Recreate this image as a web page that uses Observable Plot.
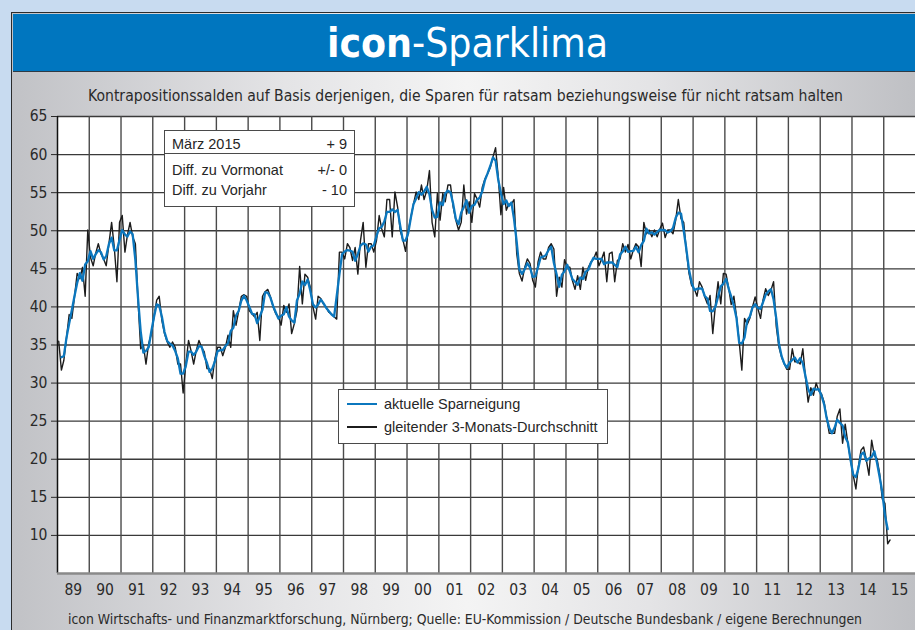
<!DOCTYPE html>
<html>
<head>
<meta charset="utf-8">
<script src="https://cdn.jsdelivr.net/npm/d3@7"></script>
<script src="https://cdn.jsdelivr.net/npm/@observablehq/plot@0.6"></script>
<style>
  html, body { margin: 0; padding: 0; }
  body { width: 915px; height: 630px; overflow: hidden; background: #c8dbf0; position: relative;
         font-family: "Liberation Sans", Arial, sans-serif; }
  #panel { position: absolute; left: 11px; top: 12px; width: 910px; height: 625px;
           border-left: 1.5px solid #2b2b2b; border-top: 1.5px solid #2b2b2b;
           background: linear-gradient(90deg, #c1c2c6 0%, #e4e4e6 30%, #f4f4f4 50%, #e4e4e6 70%, #bebfc3 100%); }
  #band { position: absolute; left: 12.5px; top: 13.5px; width: 905px; height: 57px;
          background: #0076bf; border-bottom: 1.5px solid #2f3a44; }
  #head, #cap { position: absolute; left: 0; }
  #head { top: 0; }
  #cap { top: 600px; }
  #chart { position: absolute; left: 0; top: 105px; }
  #info { position: absolute; left: 164px; top: 130px; width: 189px; height: 75px;
          background: #fff; border: 1px solid #4a4a4a; font-size: 14.5px; color: #262626; }
  #info .row { position: absolute; left: 7px; right: 7px; display: flex; justify-content: space-between; }
  #info .sep { position: absolute; left: 0; right: 0; top: 22px; border-top: 1px solid #4a4a4a; }
  #legend { position: absolute; left: 338px; top: 389px; width: 268px; height: 53px;
            background: #fff; border: 1px solid #4a4a4a; font-size: 14.5px; color: #262626; }
  #legend .item { position: absolute; left: 8px; display: flex; align-items: center; }
  #legend .sw { width: 30px; height: 2.5px; margin-right: 7px; }
</style>
</head>
<body>
<div id="panel"></div>
<div id="band"></div>
<svg id="head" width="915" height="105"></svg>
<div id="chart"></div>
<div id="info"></div>
<div id="legend"></div>
<svg id="cap" width="915" height="30"></svg>
<script>
// ---- data: monthly values (Jan 1989 – Mar 2015) ----
const y1989 = [35.5, 31.7, 33, 36, 39, 38.5, 41.3, 44.4, 43.7, 45.2, 41.4, 50.1];
const y1990 = [46.5, 45.4, 47, 48.3, 47, 46.3, 45.4, 48.3, 51.1, 47.9, 43.3, 51.1];
const y1991 = [52, 47.2, 49.4, 51.1, 49.2, 48.3, 40.9, 34.5, 35, 32.5, 35.2, 36.4];
const y1992 = [38.7, 40.9, 41.4, 38.2, 36.5, 35.4, 34.7, 35.4, 34.7, 32.5, 32.5, 28.7];
const y1993 = [32.5, 35.6, 34.3, 32.5, 34.3, 35.6, 34.7, 34.1, 31.9, 31.9, 30.6, 33.2];
const y1994 = [34.7, 34.7, 33.6, 34.7, 36.3, 34.7, 39.5, 37.6, 39.5, 41.4, 41.6, 41.4];
const y1995 = [39.5, 39.1, 38.7, 39.3, 35.6, 41.4, 42, 42.3, 41.3, 40, 39.1, 38.7];
const y1996 = [37.6, 40.2, 39.3, 40.4, 36.5, 37.8, 39.5, 45.3, 40.4, 44.3, 43.9, 42.6];
const y1997 = [40, 38.4, 41.4, 41.1, 40.4, 40, 39.3, 39.1, 38.7, 38.4, 47.2, 47.2];
const y1998 = [46.3, 48.3, 47.8, 46.1, 47.8, 44.3, 48.7, 51.1, 45.2, 48.3, 48.3, 47.2];
const y1999 = [48.7, 52, 50.3, 49.2, 54.1, 54.1, 49.2, 55.1, 53.1, 50, 48.8, 47.3];
const y2000 = [50, 51.8, 53.5, 55.1, 54.1, 56, 54.1, 55.3, 57.9, 51.1, 49.2, 54.9];
const y2001 = [51.4, 54.9, 53.8, 56, 56, 53.1, 51.4, 50.1, 51.1, 56, 52.2, 53.8];
const y2002 = [51.1, 54.9, 54.2, 53.1, 55.7, 56.8, 57.5, 58.3, 59.7, 60.9, 57, 52.1];
const y2003 = [55.7, 52.7, 53.5, 53.5, 54.1, 47, 44.4, 43.4, 45.2, 46.3, 45.7, 43.5];
const y2004 = [42.6, 45.9, 47.2, 46.3, 46.3, 47.8, 48.3, 47.6, 41.4, 43.9, 42.6, 46.2];
const y2005 = [45.2, 45.2, 43.5, 42.3, 44.1, 42.3, 45.2, 43.5, 45.2, 45.9, 46.3, 47.2];
const y2006 = [45.4, 46.3, 47.2, 43.3, 47, 47.2, 43.3, 46.1, 46.3, 48.3, 47.2, 48.2];
const y2007 = [46.3, 47.5, 48.3, 47.9, 45.3, 51.1, 49.6, 50.1, 49.2, 50.1, 49.2, 50.2];
const y2008 = [51, 49.1, 50.1, 50.1, 49.6, 51.4, 54.1, 51.6, 51.1, 47.4, 44.4, 42.8];
const y2009 = [42.4, 41.4, 43.3, 42.6, 41.3, 40.4, 41.5, 36.5, 40.3, 43.3, 40.4, 44.4];
const y2010 = [44.3, 42.4, 40.3, 41.4, 38.7, 35.4, 31.7, 38.5, 37.7, 38.5, 40, 41.3];
const y2011 = [39.8, 38.5, 40.9, 42.4, 41.5, 42.2, 43.3, 37.4, 34.7, 33.4, 32.5, 31.8];
const y2012 = [31.8, 34.5, 32.8, 32.8, 32.5, 34.5, 30.8, 27.5, 29.4, 28.4, 30, 29];
const y2013 = [28.6, 27.5, 25.5, 23.4, 23.4, 23.4, 25.6, 26.6, 22.1, 24.6, 22.1, 19.9];
const y2014 = [17.9, 16.1, 19, 21.2, 21.6, 19.9, 17.9, 22.5, 20.5, 20.1, 18.1, 14.8];
const y2015 = [14.2, 8.9, 9.4];

const firstYear = 1989;
const yearlyValues = [y1989, y1990, y1991, y1992, y1993, y1994, y1995, y1996, y1997, y1998,
  y1999, y2000, y2001, y2002, y2003, y2004, y2005, y2006, y2007, y2008, y2009, y2010,
  y2011, y2012, y2013, y2014, y2015];

const yearLabels = ["89","90","91","92","93","94","95","96","97","98","99","00","01","02",
  "03","04","05","06","07","08","09","10","11","12","13","14","15"];
const yTicks = [10, 15, 20, 25, 30, 35, 40, 45, 50, 55, 60, 65];

const titleBold = "icon";
const titleRest = "-Sparklima";
const subtitle = "Kontrapositionssalden auf Basis derjenigen, die Sparen für ratsam beziehungsweise für nicht ratsam halten";
const caption = "icon Wirtschafts- und Finanzmarktforschung, Nürnberg; Quelle: EU-Kommission / Deutsche Bundesbank / eigene Berechnungen";
const infoRows = [["März 2015", "+ 9"], ["Diff. zu Vormonat", "+/- 0"], ["Diff. zu Vorjahr", "- 10"]];
const legendLabels = ["aktuelle Sparneigung", "gleitender 3-Monats-Durchschnitt"];

const BLUE = "#0b77be";
const BLACK = "#1c1c1c";
const narrow = '"Liberation Sans Narrow", "DejaVu Sans Condensed", "Liberation Sans", sans-serif';

// ---- table ----
const data = yearlyValues.flatMap((vals, i) =>
  vals.map((v, m) => ({date: new Date(Date.UTC(firstYear + i, m, 15)), value: v})));
const yearStarts = yearLabels.map((_, i) => new Date(Date.UTC(firstYear + i, 0, 1))).slice(1);
const midYears = yearLabels.map((_, i) => new Date(Date.UTC(firstYear + i, 6, 2)));
const xStart = new Date(Date.UTC(firstYear, 0, 1));
const xEnd = new Date(Date.UTC(firstYear + yearLabels.length, 0, 1));

// ---- header ----
const head = d3.select("#head");
const title = head.append("text").attr("x", 327).attr("y", 57).attr("textLength", 281)
  .attr("lengthAdjust", "spacingAndGlyphs").attr("fill", "#fff")
  .attr("font-family", narrow).attr("font-size", 41);
title.append("tspan").attr("font-weight", "bold").text(titleBold);
title.append("tspan").text(titleRest);
head.append("text").attr("x", 88).attr("y", 101).attr("textLength", 755)
  .attr("lengthAdjust", "spacingAndGlyphs").attr("fill", "#2a2a2a")
  .attr("font-family", narrow).attr("font-size", 15.5).text(subtitle);

d3.select("#cap").append("text").attr("x", 68).attr("y", 24).attr("textLength", 794)
  .attr("lengthAdjust", "spacingAndGlyphs").attr("fill", "#2a2a2a")
  .attr("font-family", narrow).attr("font-size", 14.5).text(caption);

// ---- chart ----
const chart = Plot.plot({
  width: 915,
  height: 510,
  marginLeft: 57,
  marginRight: 0,
  marginTop: 11,
  marginBottom: 42,
  style: {background: "transparent", fontFamily: narrow, fontSize: "15.5px", color: "#2a2a2a", overflow: "visible"},
  x: {type: "utc", domain: [xStart, xEnd]},
  y: {domain: [5, 65]},
  marks: [
    Plot.frame({fill: "white", stroke: "none"}),
    Plot.gridY(yTicks, {stroke: "#3a3a3a", strokeOpacity: 1, strokeWidth: 1.3}),
    Plot.gridX(yearStarts, {stroke: "#4a4a4a", strokeOpacity: 1, strokeWidth: 1.4}),
    Plot.ruleX([xStart], {stroke: "#111", strokeWidth: 1.5}),
    Plot.ruleY([5], {stroke: "#8a8a8a", strokeWidth: 2.5}),
    Plot.axisY(yTicks, {tickSize: 6, tickPadding: 4, label: null, fontSize: 15.5}),
    Plot.axisX(midYears, {tickSize: 0, tickPadding: 10, label: null, fontSize: 15.5,
      tickFormat: (d) => yearLabels[d.getUTCFullYear() - firstYear]}),
    Plot.line(data, {x: "date", y: "value", stroke: BLACK, strokeWidth: 1.4}),
    Plot.line(data, Plot.windowY({k: 3, anchor: "middle", strict: true},
      {x: "date", y: "value", stroke: BLUE, strokeWidth: 2.3}))
  ]
});
document.getElementById("chart").appendChild(chart);

// ---- info box ----
const info = d3.select("#info");
const rowTops = [5, 31, 51];
infoRows.forEach((r, i) => {
  const row = info.append("div").attr("class", "row").style("top", rowTops[i] + "px");
  row.append("span").text(r[0]);
  row.append("span").text(r[1]);
});
info.append("div").attr("class", "sep");

// ---- legend ----
const legend = d3.select("#legend");
[BLUE, BLACK].forEach((c, i) => {
  const it = legend.append("div").attr("class", "item").style("top", (6 + i * 23) + "px");
  it.append("div").attr("class", "sw").style("background", c);
  it.append("span").text(legendLabels[i]);
});
</script>
</body>
</html>
